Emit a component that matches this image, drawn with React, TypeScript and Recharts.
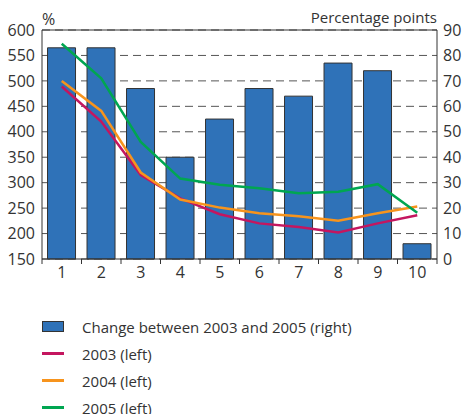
import React from 'react';
import {
  ComposedChart,
  Bar,
  Line,
  XAxis,
  YAxis,
  CartesianGrid,
  ReferenceLine,
} from 'recharts';

const categories = ['1', '2', '3', '4', '5', '6', '7', '8', '9', '10'];
const change0305 = [83, 83, 67, 40, 55, 67, 64, 77, 74, 6];
const rate2003 = [489, 420, 315, 269, 238, 220, 213, 202, 220, 236];
const rate2004 = [500, 441, 320, 267, 251, 240, 234, 225, 240, 253];
const rate2005 = [573, 505, 380, 308, 296, 289, 279, 282, 297, 241];

const leftTicks = [150, 200, 250, 300, 350, 400, 450, 500, 550, 600];
const rightTicks = [0, 10, 20, 30, 40, 50, 60, 70, 80, 90];

const data = categories.map((name, i) => ({
  name,
  change: change0305[i],
  y2003: rate2003[i],
  y2004: rate2004[i],
  y2005: rate2005[i],
}));

const FONT = '"Open Sans", sans-serif';
const TEXT = '#333';
const BLUE = '#2f72b8';
const CRIMSON = '#c4165f';
const ORANGE = '#f7941d';
const GREEN = '#00a651';

const CHART_W = 462;
const LEFT_W = 42;
const RIGHT_W = 25;
const BAND = (CHART_W - LEFT_W - RIGHT_W) / categories.length;

const XTick = (props: any) => {
  const { x, y, payload, index } = props;
  const half = BAND / 2;
  return (
    <g>
      <line x1={x - half} x2={x - half} y1={y - 5} y2={y} stroke={TEXT} strokeWidth={1} />
      {index === categories.length - 1 && (
        <line x1={x + half} x2={x + half} y1={y - 5} y2={y} stroke={TEXT} strokeWidth={1} />
      )}
      <text x={x} y={y} dy={14} textAnchor="middle" fill={TEXT} fontSize={16} fontFamily={FONT}>
        {payload.value}
      </text>
    </g>
  );
};

const legendItems = [
  { label: 'Change between 2003 and 2005 (right)', type: 'bar', color: BLUE },
  { label: '2003 (left)', type: 'line', color: CRIMSON },
  { label: '2004 (left)', type: 'line', color: ORANGE },
  { label: '2005 (left)', type: 'line', color: GREEN },
];

export default function App() {
  return (
    <div style={{ position: 'absolute', left: 0, top: 0, width: 462, height: 414, fontFamily: FONT, color: TEXT }}>
      <div style={{ position: 'absolute', left: 42, top: 9, fontSize: 16, lineHeight: '20px' }}>%</div>
      <div style={{ position: 'absolute', right: 25, top: 7, fontSize: 15, lineHeight: '20px' }}>
        Percentage points
      </div>
      <ComposedChart
        width={CHART_W}
        height={290}
        data={data}
        margin={{ top: 30, right: 0, left: 0, bottom: 0 }}
        barCategoryGap="14%"
      >
        <CartesianGrid yAxisId="left" vertical={false} stroke="#555" strokeDasharray="8 5" />
        <XAxis
          dataKey="name"
          height={31}
          tickLine={false}
          tickSize={5}
          tickMargin={0}
          axisLine={{ stroke: TEXT }}
          tick={<XTick />}
          interval={0}
        />
        <YAxis
          yAxisId="left"
          width={LEFT_W}
          domain={[150, 600]}
          ticks={leftTicks}
          tickLine={false}
          tickMargin={1}
          axisLine={{ stroke: TEXT }}
          tick={{ fill: TEXT, fontSize: 16, fontFamily: FONT }}
        />
        <YAxis
          yAxisId="right"
          orientation="right"
          width={RIGHT_W}
          domain={[0, 90]}
          ticks={rightTicks}
          tickLine={false}
          tickMargin={0}
          axisLine={{ stroke: TEXT }}
          tick={{ fill: TEXT, fontSize: 16, fontFamily: FONT, textAnchor: 'start' }}
        />
        <ReferenceLine yAxisId="left" y={600} stroke={TEXT} strokeWidth={1} />
        <Bar
          yAxisId="right"
          dataKey="change"
          fill={BLUE}
          stroke={TEXT}
          strokeWidth={1}
          isAnimationActive={false}
        />
        <Line yAxisId="left" dataKey="y2003" stroke={CRIMSON} strokeWidth={2.5} dot={false} isAnimationActive={false} />
        <Line yAxisId="left" dataKey="y2004" stroke={ORANGE} strokeWidth={2.5} dot={false} isAnimationActive={false} />
        <Line yAxisId="left" dataKey="y2005" stroke={GREEN} strokeWidth={2.5} dot={false} isAnimationActive={false} />
      </ComposedChart>
      <div style={{ position: 'absolute', left: 42, top: 313 }}>
        {legendItems.map((item) => (
          <div key={item.label} style={{ display: 'flex', alignItems: 'center', height: 27, fontSize: 15, lineHeight: '18px' }}>
            <svg width={22} height={12} style={{ marginRight: 18 }}>
              {item.type === 'bar' ? (
                <rect x={0.5} y={0.5} width={21} height={10} fill={item.color} stroke={TEXT} />
              ) : (
                <rect x={0} y={4} width={22} height={3} fill={item.color} />
              )}
            </svg>
            <span>{item.label}</span>
          </div>
        ))}
      </div>
    </div>
  );
}
